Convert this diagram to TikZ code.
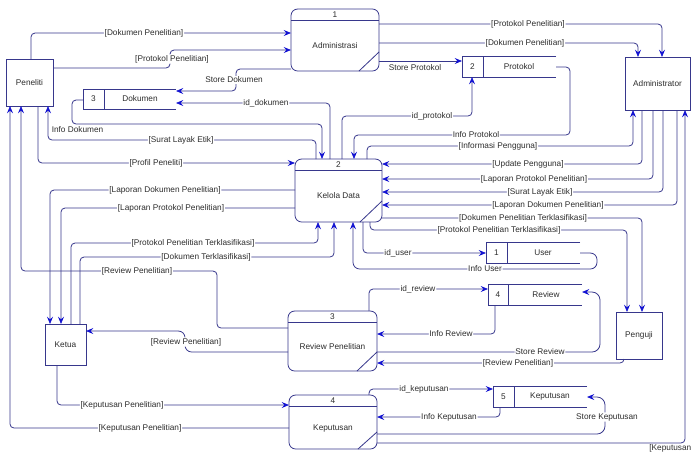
\documentclass[tikz,border=0pt]{standalone}
\usepackage{fontspec}
\setmainfont{Liberation Sans}
\usetikzlibrary{arrows.meta}
\definecolor{linec}{RGB}{55,55,140}
\definecolor{arrowc}{RGB}{20,20,210}
\definecolor{textc}{RGB}{45,45,45}
\begin{document}
\begin{tikzpicture}[x=0.75pt,y=-0.75pt,
  font=\fontsize{6.2}{7.4}\selectfont,
  ent/.style={draw=linec, line width=0.6pt, fill=white, inner sep=0pt, outer sep=0pt, text=textc},
  proc/.style={draw=linec, line width=0.6pt, rounded corners=5pt, inner sep=0pt, outer sep=0pt},
  sto/.style={inner sep=0pt, outer sep=0pt},
  outl/.style={draw=linec, line width=0.6pt},
  txt/.style={text=textc, inner sep=0pt},
  flow/.style={draw=linec, line width=0.6pt, rounded corners=3pt, line join=round,
    -{Stealth[length=5.5pt,width=4.5pt,inset=2pt,color=arrowc]}},
  lab/.style={fill=white, text=textc, inner sep=0.6pt},
]
\useasboundingbox[fill=white] (0,0) rectangle (691,455);

% ---------- external entities ----------
\node[ent, minimum width=35.25pt, minimum height=35.25pt] (pen) at (29.5,82.5) {Peneliti};
\node[ent, minimum width=48.75pt, minimum height=39.75pt] (adm) at (657.5,83.5) {Administrator};
\node[ent, minimum width=30.75pt, minimum height=30.75pt] (ket) at (65.5,344.5) {Ketua};
\node[ent, minimum width=34.5pt, minimum height=35.25pt] (pgj) at (639,335.5) {Penguji};

% ---------- processes ----------
\node[proc, minimum width=66pt, minimum height=46.5pt] (p1) at (335,40) {};
\draw[outl] (p1.west |- 0,20) -- (p1.east |- 0,20);
\draw[outl] (359,0 |- p1.south) -- (p1.east |- 0,52);
\node[txt] (p1n) at (335,14.5) {1};
\node[txt] (p1t) at (335,46) {Administrasi};

\node[proc, minimum width=65.25pt, minimum height=47.25pt] (p2) at (338.5,190.5) {};
\draw[outl] (p2.west |- 0,170) -- (p2.east |- 0,170);
\draw[outl] (360,0 |- p2.south) -- (p2.east |- 0,201);
\node[txt] (p2n) at (338.5,164.5) {2};
\node[txt] (p2t) at (338.5,196) {Kelola Data};

\node[proc, minimum width=66.75pt, minimum height=45pt] (p3) at (332.5,341) {};
\draw[outl] (p3.west |- 0,322) -- (p3.east |- 0,322);
\draw[outl] (357,0 |- p3.south) -- (p3.east |- 0,352);
\node[txt] (p3n) at (332.5,316.5) {3};
\node[txt] (p3t) at (332.5,347) {Review Penelitian};

\node[proc, minimum width=66pt, minimum height=40.5pt] (p4) at (333,422) {};
\draw[outl] (p4.west |- 0,406) -- (p4.east |- 0,406);
\draw[outl] (358,0 |- p4.south) -- (p4.east |- 0,432);
\node[txt] (p4n) at (333,400.5) {4};
\node[txt] (p4t) at (333,428) {Keputusan};

% ---------- data stores ----------
\node[sto, minimum width=69.75pt, minimum height=15pt] (s3) at (129.5,99) {};
\draw[outl] (s3.north east) -- (s3.north west) -- (s3.south west) -- (s3.south east);
\draw[outl] (104,0 |- s3.north) -- (104,0 |- s3.south);
\node[txt] (s3n) at (93.5,99) {3};
\node[txt] (s3t) at (140,99) {Dokumen};

\node[sto, minimum width=70.5pt, minimum height=15.75pt] (s2) at (509,66.5) {};
\draw[outl] (s2.north east) -- (s2.north west) -- (s2.south west) -- (s2.south east);
\draw[outl] (483,0 |- s2.north) -- (483,0 |- s2.south);
\node[txt] (s2n) at (472.5,66.5) {2};
\node[txt] (s2t) at (519,66.5) {Protokol};

\node[sto, minimum width=70.5pt, minimum height=15.75pt] (s1) at (533,252.5) {};
\draw[outl] (s1.north east) -- (s1.north west) -- (s1.south west) -- (s1.south east);
\draw[outl] (507,0 |- s1.north) -- (507,0 |- s1.south);
\node[txt] (s1n) at (496.5,252.5) {1};
\node[txt] (s1t) at (543,252.5) {User};

\node[sto, minimum width=70.5pt, minimum height=15.75pt] (s4) at (535,294.5) {};
\draw[outl] (s4.north east) -- (s4.north west) -- (s4.south west) -- (s4.south east);
\draw[outl] (508,0 |- s4.north) -- (508,0 |- s4.south);
\node[txt] (s4n) at (498,294.5) {4};
\node[txt] (s4t) at (546,294.5) {Review};

\node[sto, minimum width=70.5pt, minimum height=15.75pt] (s5) at (540,396.5) {};
\draw[outl] (s5.north east) -- (s5.north west) -- (s5.south west) -- (s5.south east);
\draw[outl] (514,0 |- s5.north) -- (514,0 |- s5.south);
\node[txt] (s5n) at (503.5,396.5) {5};
\node[txt] (s5t) at (550,396.5) {Keputusan};

% ---------- flows: top ----------
\draw[flow] (31,0 |- pen.north) -- (31,33) -- (p1.west |- 0,33)
  node[lab] (l1) at (144,33) {[Dokumen Penelitian]};
\draw[flow] (pen.east |- 0,68) -- (170,68) -- (170,50) -- (p1.west |- 0,50)
  node[lab] (l2) at (172,59) {[Protokol Penelitian]};
\draw[flow] (p1.west |- 0,69) -- (236,69) -- (236,91) -- (s3.east |- 0,91)
  node[lab] (l3) at (234,80) {Store Dokumen};
\draw[flow] (p1.east |- 0,24) -- (662,24) -- (662,0 |- adm.north)
  node[lab] (l4) at (528,24) {[Protokol Penelitian]};
\draw[flow] (p1.east |- 0,43) -- (638,43) -- (638,0 |- adm.north)
  node[lab] (l5) at (525,43) {[Dokumen Penelitian]};
\draw[flow] (p1.east |- 0,61) -- (s2.west |- 0,61)
  node[txt] (l6) at (415,68) {Store Protokol};

% ---------- flows: Kelola Data top ----------
\draw[flow] (330,0 |- p2.north) -- (330,103) -- (s3.east |- 0,103)
  node[lab] (l7) at (266,103) {id\_dokumen};
\draw[flow] (s3.west |- 0,100) -- (72,100) -- (72,124) -- (322,124) -- (322,0 |- p2.north)
  node[txt] (l8) at (77.5,130) {Info Dokumen};
\draw[flow] (316,0 |- p2.north) -- (316,140) -- (48,140) -- (48,0 |- pen.south)
  node[lab] (l9) at (181,140) {[Surat Layak Etik]};
\draw[flow] (38,0 |- pen.south) -- (38,163) -- (p2.west |- 0,163)
  node[lab] (l10) at (156,163) {[Profil Peneliti]};
\draw[flow] (342,0 |- p2.north) -- (342,116) -- (472,116) -- (472,0 |- s2.south)
  node[lab] (l11) at (432,116) {id\_protokol};
\draw[flow] (s2.east |- 0,67) -- (570,67) -- (570,135) -- (354,135) -- (354,0 |- p2.north)
  node[lab] (l12) at (476,135) {Info Protokol};
\draw[flow] (367,0 |- p2.north) -- (367,146) -- (633,146) -- (633,0 |- adm.south)
  node[lab] (l13) at (498,146) {[Informasi Pengguna]};

% ---------- flows: Administrator -> Kelola Data ----------
\draw[flow] (642,0 |- adm.south) -- (642,164) -- (p2.east |- 0,164)
  node[lab] (l14) at (528,164) {[Update Pengguna]};
\draw[flow] (653,0 |- adm.south) -- (653,179) -- (p2.east |- 0,179)
  node[lab] (l15) at (534,179) {[Laporan Protokol Penelitian]};
\draw[flow] (663,0 |- adm.south) -- (663,192) -- (p2.east |- 0,192)
  node[lab] (l16) at (540,192) {[Surat Layak Etik]};
\draw[flow] (677,0 |- adm.south) -- (677,205) -- (p2.east |- 0,205)
  node[lab] (l17) at (548,205) {[Laporan Dokumen Penelitian]};

% ---------- flows: Kelola Data -> Penguji ----------
\draw[flow] (p2.east |- 0,218) -- (642,218) -- (642,0 |- pgj.north)
  node[lab] (l18) at (523,218) {[Dokumen Penelitian Terklasifikasi]};
\draw[flow] (370,0 |- p2.south) -- (370,230) -- (627,230) -- (627,0 |- pgj.north)
  node[lab] (l19) at (499,230) {[Protokol Penelitian Terklasifikasi]};

% ---------- flows: Kelola Data <-> User ----------
\draw[flow] (363,0 |- p2.south) -- (363,253) -- (s1.west |- 0,253)
  node[lab] (l20) at (398,253) {id\_user};
\draw[flow, rounded corners=5pt] (s1.east |- 0,253) -- (597,253) -- (597,269) -- (353,269) -- (353,0 |- p2.south)
  node[lab] (l21) at (485,269) {Info User};

% ---------- flows: Kelola Data <-> Ketua ----------
\draw[flow] (p2.west |- 0,190) -- (50,190) -- (50,0 |- ket.north)
  node[lab] (l22) at (165,190) {[Laporan Dokumen Penelitian]};
\draw[flow] (p2.west |- 0,208) -- (61,208) -- (61,0 |- ket.north)
  node[lab] (l23) at (171,208) {[Laporan Protokol Penelitian]};
\draw[flow] (71,0 |- ket.north) -- (71,243) -- (318,243) -- (318,0 |- p2.south)
  node[lab] (l24) at (193,243) {[Protokol Penelitian Terklasifikasi]};
\draw[flow] (80,0 |- ket.north) -- (80,257) -- (334,257) -- (334,0 |- p2.south)
  node[lab] (l25) at (206,257) {[Dokumen Terklasifikasi]};

% ---------- flows: Review Penelitian ----------
\draw[flow] (p3.west |- 0,328) -- (217,328) -- (217,271) -- (21,271) -- (21,0 |- pen.south)
  node[lab] (l26) at (137,271) {[Review Penelitian]};
\draw[flow, rounded corners=5pt] (p3.west |- 0,352) -- (185,352) -- (185,331) -- (ket.east |- 0,331)
  node[lab] (l27) at (186,342) {[Review Penelitian]};
\draw[flow] (369,0 |- p3.north) -- (369,289) -- (s4.west |- 0,289)
  node[lab] (l28) at (418,289) {id\_review};
\draw[flow] (495,0 |- s4.south) -- (495,334) -- (p3.east |- 0,334)
  node[lab] (l29) at (451,334) {Info Review};
\draw[flow, rounded corners=6pt] (p3.east |- 0,352) -- (600,352) -- (600,292) -- (s4.east |- 0,292)
  node[lab] (l30) at (540,352) {Store Review};
\draw[flow] (624,0 |- pgj.south) -- (624,363) -- (p3.east |- 0,363)
  node[lab] (l31) at (518,363) {[Review Penelitian]};

% ---------- flows: Keputusan ----------
\draw[flow] (57,0 |- ket.south) -- (57,405) -- (p4.west |- 0,405)
  node[lab] (l32) at (122,405) {[Keputusan Penelitian]};
\draw[flow] (p4.west |- 0,428) -- (10,428) -- (10,0 |- pen.south)
  node[lab] (l33) at (140,428) {[Keputusan Penelitian]};
\draw[flow] (369,0 |- p4.north) -- (369,389) -- (s5.west |- 0,389)
  node[lab] (l34) at (424,389) {id\_keputusan};
\draw[flow] (500,0 |- s5.south) -- (500,417) -- (p4.east |- 0,417)
  node[lab] (l35) at (449,417) {Info Keputusan};
\draw[flow, rounded corners=6pt] (p4.east |- 0,434) -- (605,434) -- (605,397) -- (s5.east |- 0,397)
  node[lab] (l36) at (607,417) {Store Keputusan};
\draw[flow] (p4.east |- 0,443) -- (685,443) -- (685,0 |- adm.south)
  node[txt, anchor=west] (l37) at (649,448) {[Keputusan};
\end{tikzpicture}
\end{document}
